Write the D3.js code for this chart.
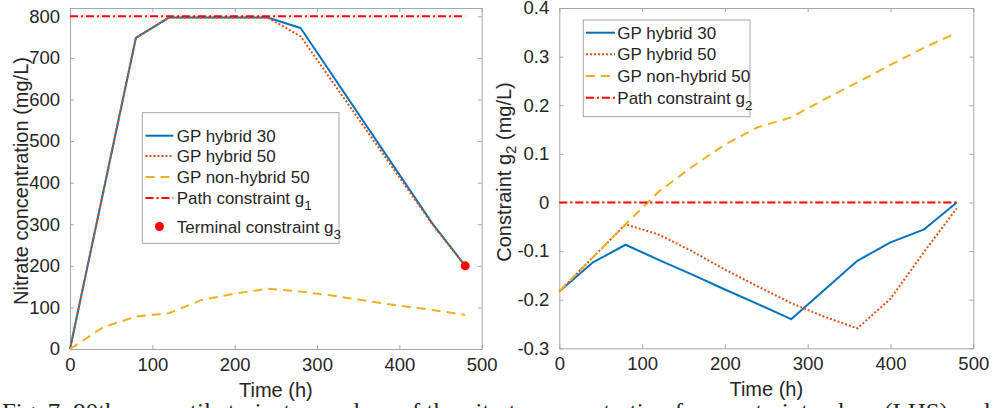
<!DOCTYPE html>
<html>
<head>
<meta charset="utf-8">
<script src="https://cdn.jsdelivr.net/npm/d3@7/dist/d3.min.js"></script>
<style>
  html, body { margin: 0; padding: 0; background: #fff; }
  svg { display: block; }
  text { font-family: "Liberation Sans", Arial, Helvetica, sans-serif; fill: #262626; }
</style>
</head>
<body>
<svg id="chart" width="993" height="408"></svg>
<script>
// ---------------- DATA ----------------
// Left panel: nitrate concentration (mg/L)
const hybTimes = [0, 80, 120, 240, 280, 440, 480];
const nitrateHybrid30 = [0, 748, 797, 797, 772, 302, 200];
const nitrateHybrid50 = [0, 748, 797, 797, 752, 300, 200];
const nonHybTimes = [0, 40, 80, 120, 160, 200, 240, 280, 320, 360, 400, 440, 480];
const nitrateNonHybrid50 = [0, 52, 78, 86, 118, 133, 145, 138, 128, 116, 104, 94, 82];
const pathTimes = [0, 480];
const pathG1 = [800, 800];
const terminalG3 = { t: 480, v: 200 };

// Right panel: constraint g2 (mg/L)
const g2Times = [0, 40, 80, 120, 160, 200, 240, 280, 320, 360, 400, 440, 480];
const g2Hybrid30 = [-0.183, -0.124, -0.087, -0.118, -0.148, -0.179, -0.209, -0.240, -0.180, -0.120, -0.082, -0.056, 0.000];
const g2Hybrid50 = [-0.183, -0.114, -0.045, -0.066, -0.100, -0.138, -0.173, -0.207, -0.235, -0.259, -0.198, -0.103, -0.012];
const g2NonHybrid50 = [-0.183, -0.114, -0.045, 0.022, 0.073, 0.119, 0.155, 0.175, 0.212, 0.247, 0.283, 0.318, 0.349];
const pathG2 = [0, 0];

// Tick values
const xTicks = [0, 100, 200, 300, 400, 500];
const yTicksLeft = [0, 100, 200, 300, 400, 500, 600, 700, 800];
const yTicksRight = [-0.3, -0.2, -0.1, 0, 0.1, 0.2, 0.3, 0.4];

const caption = "Fig. 7: 90th percentile trajectory values of the nitrate concentration for constraint values (LHS) and";

// ---------------- STYLES ----------------
const C = { blue: "#0072BD", orange: "#D95319", yellow: "#EDB120", red: "#FF0000" };
const styles = {
  h30: { stroke: C.blue, width: 2, dash: null },
  h50: { stroke: C.orange, width: 2, dash: "2,2" },
  nh50: { stroke: C.yellow, width: 2, dash: "9,6" },
  path: { stroke: C.red, width: 2, dash: "8,3,2,3" }
};

const svg = d3.select("#chart");

function drawPanel(cfg) {
  const x = d3.scaleLinear().domain([0, 500]).range([cfg.left, cfg.right]);
  const y = d3.scaleLinear().domain(cfg.yDomain).range([cfg.bottom, cfg.top]);
  const g = svg.append("g");
  const tl = 4;

  // box axes
  const axB = d3.axisBottom(x).tickValues(xTicks).tickSizeInner(-tl).tickSizeOuter(0).tickPadding(9).tickFormat(d3.format("d"));
  const axT = d3.axisTop(x).tickValues(xTicks).tickSizeInner(-tl).tickSizeOuter(0).tickFormat("");
  const axL = d3.axisLeft(y).tickValues(cfg.yTicks).tickSizeInner(-tl).tickSizeOuter(0).tickPadding(10).tickFormat(cfg.yFmt);
  const axR = d3.axisRight(y).tickValues(cfg.yTicks).tickSizeInner(-tl).tickSizeOuter(0).tickFormat("");

  const styleAxis = sel => {
    sel.selectAll("path").attr("stroke", "#a6a6a6").attr("stroke-width", 1);
    sel.selectAll("line").attr("stroke", "#a6a6a6").attr("stroke-width", 1);
    sel.selectAll("text").style("font-size", "18.5px").attr("fill", "#262626").style("font-family", '"Liberation Sans", Arial, sans-serif');
  };
  g.append("g").attr("transform", `translate(0,${cfg.bottom})`).call(axB).call(styleAxis);
  g.append("g").attr("transform", `translate(0,${cfg.top})`).call(axT).call(styleAxis);
  g.append("g").attr("transform", `translate(${cfg.left},0)`).call(axL).call(styleAxis);
  g.append("g").attr("transform", `translate(${cfg.right},0)`).call(axR).call(styleAxis);

  // series
  const line = d3.line().x(d => x(d[0])).y(d => y(d[1]));
  cfg.series.forEach(s => {
    const pts = s.t.map((t, i) => [t, s.v[i]]);
    g.append("path").datum(pts).attr("d", line)
      .attr("fill", "none").attr("stroke", s.st.stroke).attr("stroke-width", s.st.width)
      .attr("stroke-dasharray", s.st.dash).attr("stroke-linejoin", "round");
  });
  if (cfg.marker) {
    g.append("circle").attr("cx", x(cfg.marker.t)).attr("cy", y(cfg.marker.v)).attr("r", 4.5).attr("fill", C.red);
  }

  // axis labels
  g.append("text").attr("x", (cfg.left + cfg.right) / 2).attr("y", cfg.bottom + 48)
    .attr("text-anchor", "middle").style("font-size", "20px").text("Time (h)");
  const yl = g.append("text").attr("transform", `translate(${cfg.ylabX},${cfg.ylabY}) rotate(-90)`)
    .attr("text-anchor", "middle").style("font-size", "20px");
  cfg.ylabParts.forEach(p => {
    const ts = yl.append("tspan").text(p.t);
    if (p.sub) ts.style("font-size", "15px").attr("dy", 5);
    if (p.after) ts.attr("dy", -5);
  });

  // legend
  const L = cfg.legend;
  const lg = g.append("g");
  lg.append("rect").attr("x", L.x0).attr("y", L.y0).attr("width", L.x1 - L.x0).attr("height", L.y1 - L.y0)
    .attr("fill", "#fff").attr("stroke", "#a6a6a6").attr("stroke-width", 1);
  L.items.forEach(it => {
    if (it.st) {
      lg.append("line").attr("x1", L.lx0).attr("x2", L.lx1).attr("y1", it.y).attr("y2", it.y)
        .attr("stroke", it.st.stroke).attr("stroke-width", it.st.width).attr("stroke-dasharray", it.st.dash);
    } else {
      lg.append("circle").attr("cx", (L.lx0 + L.lx1) / 2).attr("cy", it.y).attr("r", 4.5).attr("fill", C.red);
    }
    const tx = lg.append("text").attr("x", L.tx).attr("y", it.y + 6).style("font-size", "17px");
    tx.append("tspan").text(it.label);
    if (it.sub) tx.append("tspan").text(it.sub).attr("dy", 6).style("font-size", "13.5px");
  });
}

drawPanel({
  left: 70, right: 481.7, top: 8, bottom: 349,
  yDomain: [0, 820], yTicks: yTicksLeft, yFmt: d3.format("d"),
  ylabX: 28, ylabY: 181,
  ylabParts: [{ t: "Nitrate concentration (mg/L)" }],
  series: [
    { t: hybTimes, v: nitrateHybrid30, st: styles.h30 },
    { t: hybTimes, v: nitrateHybrid50, st: styles.h50 },
    { t: nonHybTimes, v: nitrateNonHybrid50, st: styles.nh50 },
    { t: pathTimes, v: pathG1, st: styles.path }
  ],
  marker: terminalG3,
  legend: {
    x0: 142.3, x1: 339, y0: 112.7, y1: 243.3, lx0: 145.5, lx1: 173.3, tx: 176.7,
    items: [
      { label: "GP hybrid 30", st: styles.h30, y: 135.7 },
      { label: "GP hybrid 50", st: styles.h50, y: 156 },
      { label: "GP non-hybrid 50", st: styles.nh50, y: 177 },
      { label: "Path constraint g", sub: "1", st: styles.path, y: 198 },
      { label: "Terminal constraint g", sub: "3", st: null, y: 226.5 }
    ]
  }
});

drawPanel({
  left: 559.3, right: 973.3, top: 8, bottom: 348.3,
  yDomain: [-0.3, 0.4], yTicks: yTicksRight, yFmt: d => (Math.abs(d) < 1e-9 ? "0" : d.toFixed(1)),
  ylabX: 511, ylabY: 172,
  ylabParts: [{ t: "Constraint g" }, { t: "2", sub: true }, { t: " (mg/L)", after: true }],
  series: [
    { t: g2Times, v: g2Hybrid30, st: styles.h30 },
    { t: g2Times, v: g2Hybrid50, st: styles.h50 },
    { t: g2Times, v: g2NonHybrid50, st: styles.nh50 },
    { t: pathTimes, v: pathG2, st: styles.path }
  ],
  marker: null,
  legend: {
    x0: 583.3, x1: 750, y0: 20, y1: 116.7, lx0: 586, lx1: 615, tx: 617.3,
    items: [
      { label: "GP hybrid 30", st: styles.h30, y: 32.7 },
      { label: "GP hybrid 50", st: styles.h50, y: 54.3 },
      { label: "GP non-hybrid 50", st: styles.nh50, y: 76 },
      { label: "Path constraint g", sub: "2", st: styles.path, y: 97.7 }
    ]
  }
});

// caption (cut off by the bottom edge, as in the reference)
svg.append("text").attr("x", 2).attr("y", 419)
  .attr("textLength", 988).attr("lengthAdjust", "spacingAndGlyphs")
  .style("font-family", '"Liberation Serif", "DejaVu Serif", serif').style("font-size", "23px")
  .attr("fill", "#222").text(caption);
</script>
</body>
</html>
